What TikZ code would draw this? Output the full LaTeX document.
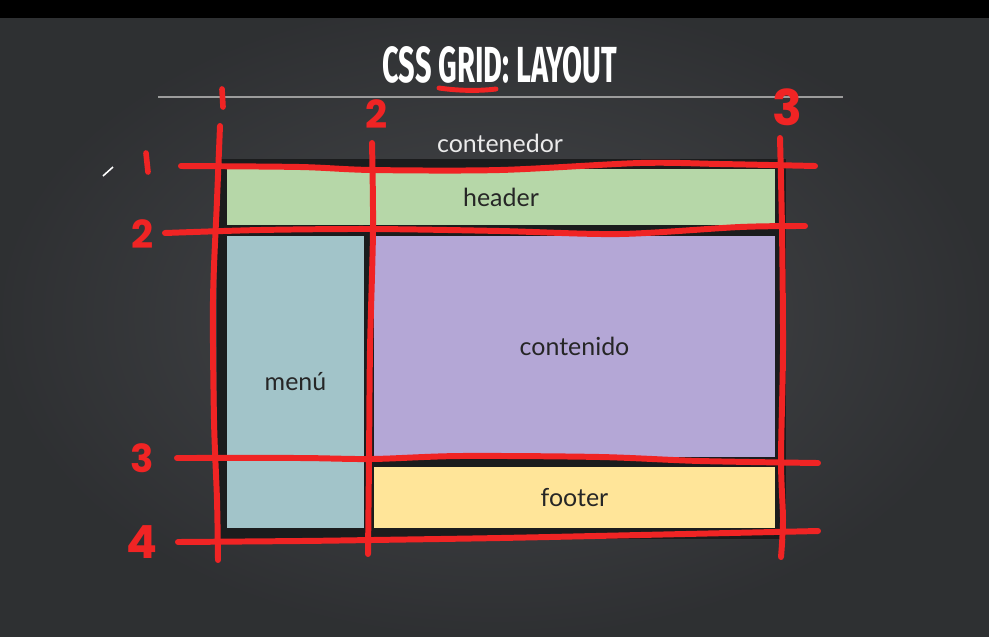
\documentclass[tikz,border=0pt]{standalone}
\usepackage{fontspec}
\setmainfont{Lato}
\newfontfamily\titlefont{Fira Sans}
\newfontfamily\handfont{Poppins}
\usepackage{tikz}
\definecolor{GLBack}{HTML}{3A3C3F}
\definecolor{GLBackIn}{HTML}{46484B}
\definecolor{GLBox}{HTML}{1B1C1D}
\definecolor{GLRed}{HTML}{F02424}
\definecolor{GLRule}{HTML}{9C9C9C}
\definecolor{GLHeader}{HTML}{B6D7A8}
\definecolor{GLMenu}{HTML}{A2C4C9}
\definecolor{GLMain}{HTML}{B4A7D6}
\definecolor{GLFooter}{HTML}{FFE599}
\definecolor{GLText}{HTML}{262626}

\begin{document}
\begin{tikzpicture}[x=0.02cm,y=-0.02cm,
  area/.style={fill=#1,inner sep=0pt,font=\fontsize{14.2}{16}\selectfont,text=GLText},
  gridline/.style={GLRed,line width=3.4pt,line cap=round,line join=round},
  num/.style={text=GLRed,font=\handfont\bfseries\fontsize{22}{22}\selectfont,inner sep=0pt}]
\path[use as bounding box] (0,0) rectangle (989,636);
\shade[inner color=GLBackIn,outer color=GLBack!80!black] (0,0) rectangle (989,636);
\fill[black] (0,0) rectangle (989,18);
% title
\node[text=white] (title) at (500,65) {\resizebox{4.7cm}{0.72cm}{\titlefont\bfseries CSS GRID: LAYOUT}};
\draw[GLRed,line width=2.8pt,line cap=round] (439,88) .. controls (460,91) and (480,91) .. (496,89);
\draw[GLRule,line width=1.1pt] (158,97) -- (843,97);
% contenedor and areas
\node[fill=GLBox,minimum width=11.38cm,minimum height=7.6cm,inner sep=0pt] (contenedor) at (501.5,349) {};
\node[text=white!92!black,font=\fontsize{14.2}{16}\selectfont] (contenedorlbl) at (500,143) {contenedor};
\node[area=GLHeader,minimum width=10.96cm,minimum height=1.12cm] (header) at (501,197) {header};
\node[area=GLMenu,minimum width=2.74cm,minimum height=5.84cm] (menu) at (295.5,382) {menú};
\node[area=GLMain,minimum width=8.02cm,minimum height=4.42cm] (contenido) at (574.5,346.5) {contenido};
\node[area=GLFooter,minimum width=8.02cm,minimum height=1.22cm] (footer) at (574.5,497.5) {footer};
% grid lines
\draw[gridline] plot[smooth] coordinates {(181,166) (300,167) (372,170) (500,170) (640,163) (720,164) (815,166)};
\draw[gridline] plot[smooth] coordinates {(165,233) (260,230) (372,229) (500,231) (620,234) (740,227) (805,226)};
\draw[gridline] plot[smooth] coordinates {(177,458) (300,458) (372,459) (460,456) (600,457) (700,461) (818,463)};
\draw[gridline] plot[smooth] coordinates {(178,542) (300,541) (372,540) (500,538) (640,535) (818,531)};
\draw[gridline] plot[smooth] coordinates {(220,126) (217,200) (213,300) (214,420) (217,500) (218,560)};
\draw[gridline] plot[smooth] coordinates {(372,143) (373,230) (370,350) (369,460) (368,554)};
\draw[gridline] plot[smooth] coordinates {(780,138) (782,230) (783,350) (781,460) (783,520) (781,557)};
% line numbers
\draw[gridline,line width=3.2pt] (222,89) -- (223,107);
\node[num] (c2) at (377,114) {2};
\node[num,font=\handfont\bfseries\fontsize{28}{28}\selectfont] (c3) at (787,107) {3};
\draw[gridline,line width=3.2pt] (146,153) -- (148,172);
\node[num] (r2) at (143,234) {2};
\node[num] (r3) at (142,458) {3};
\node[num,font=\handfont\bfseries\fontsize{26}{26}\selectfont] (r4) at (142,542) {4};
\draw[white,line width=0.9pt] (103,176) -- (113,167);
\end{tikzpicture}
\end{document}
